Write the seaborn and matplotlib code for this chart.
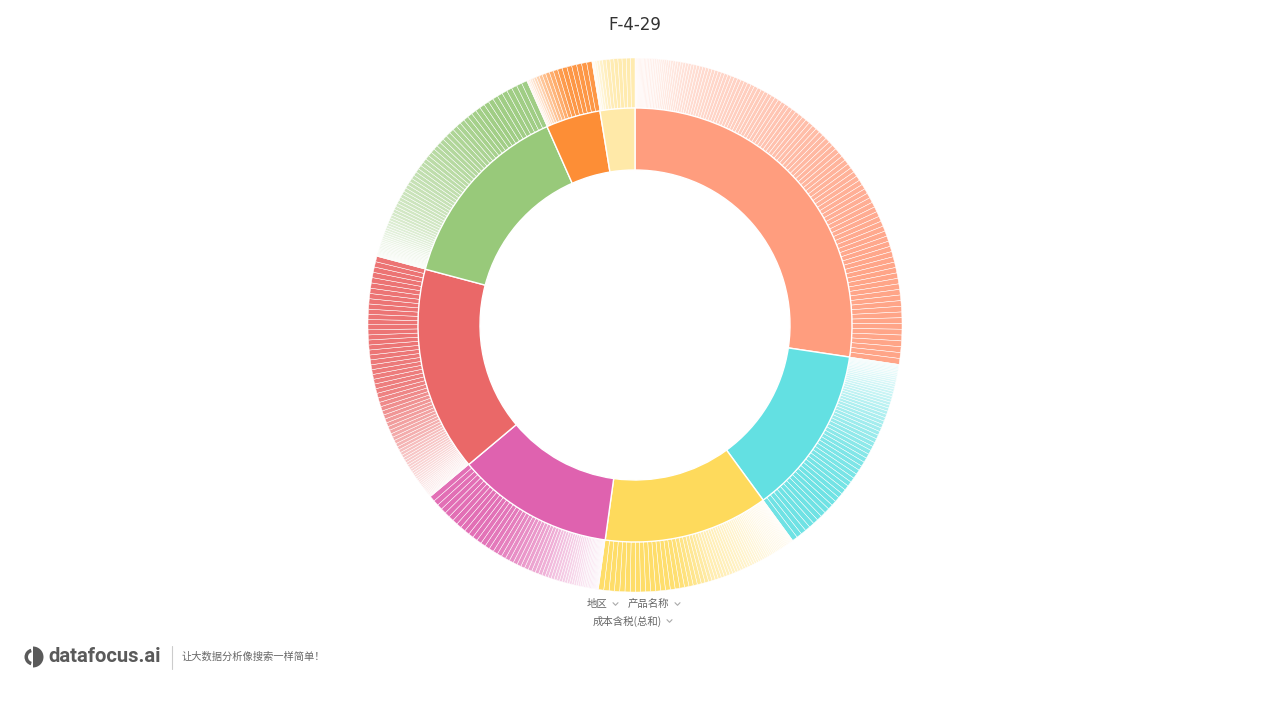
import numpy as np
import matplotlib
matplotlib.use('Agg')
import matplotlib.pyplot as plt
from matplotlib.colors import to_rgb
from matplotlib.patches import Wedge
import seaborn as sns

# inner ring: 地区 -> 成本含税(总和)
regions = ['华东', '华南', '华北', '西南', '华中', '东北', '西北', '港澳台']
region_totals = [985, 453, 441, 421, 549, 512, 146, 93]
region_colors = ['#FF9D7E', '#63E0E2', '#FEDA5C', '#DF62AF',
                 '#EA6868', '#98C97A', '#FD8E36', '#FFE9A8']

# outer ring: 产品名称 per region (largest first)
east_products = [500, 498, 495, 494, 491, 489, 486, 484, 483, 480, 477, 476, 473, 471, 468, 466,
                 465, 462, 459, 457, 455, 452, 450, 449, 446, 443, 441, 440, 437, 435, 432, 430,
                 429, 426, 424, 421, 419, 418, 415, 413, 410, 408, 406,
                 402, 398, 395, 391, 388, 384, 381, 377, 374, 370, 366, 363, 359, 356, 352, 349,
                 345, 341, 338, 334, 331, 327, 324, 320, 316, 313, 309, 306, 302, 299, 295, 291,
                 288, 284, 281, 277, 274, 270, 266, 263,
                 258, 252, 247, 241, 236, 230, 225, 219, 214, 208, 203, 197, 192, 186, 181, 175,
                 170, 164, 158, 153, 147, 142, 136, 131, 125, 119, 114, 108, 102, 96, 90, 84,
                 77, 70, 62, 54]
south_products = [320, 318, 315, 313, 311, 308, 306, 304, 301, 299, 297, 294, 292, 290, 287, 285,
                  283, 281, 279, 277, 275,
                  271, 265, 260, 254, 249, 243, 238, 232, 226, 221, 215, 210, 204, 199,
                  190, 184, 178, 172, 166, 160, 154, 148, 142, 136, 130, 124, 118, 112, 106, 100,
                  93, 87, 80, 73, 65, 56, 46]
north_products = [360, 357, 355, 352, 349, 346, 344, 341, 338, 336, 333, 330, 327, 325, 322, 319,
                  312, 301, 290, 279, 268, 257, 246, 235,
                  221, 216, 213, 208, 205, 200, 197, 192, 189, 184, 181, 176, 173, 168, 165, 160,
                  157, 152, 149, 144, 141, 136, 133, 128, 125, 120, 117, 112, 109, 104, 101, 96,
                  93, 88, 85, 80, 77, 72, 69, 64, 61, 56, 53, 48, 45, 40]
southwest_products = [300, 298, 295, 293, 290, 288, 285, 283, 280, 278, 275, 273, 270, 268, 265, 263,
                      258, 252, 247, 241, 236, 230, 225, 219, 213, 208, 202, 197, 191, 186,
                      172, 167, 162, 157, 152, 147, 142, 137, 132, 127, 122, 117, 112, 107, 102,
                      97, 92, 87, 82, 77, 72, 67, 62, 57, 52, 47, 42, 37, 32]
central_products = [520, 517, 515, 512, 510, 507, 505, 502, 500, 497, 495, 492, 490, 487, 485, 482,
                    480, 477, 475, 472, 470, 467, 465, 462, 460, 457, 455,
                    448, 439, 430, 421, 412, 402, 393, 384, 375, 366, 356, 347, 338, 329, 320,
                    298, 290, 282, 274, 266, 258, 250, 242, 234, 226, 218, 210, 202, 194, 186,
                    178, 170, 162, 154, 146, 138, 130, 122, 114, 106, 98, 88, 76, 62]
northeast_products = [260, 258, 255, 253, 250, 248, 246, 243, 241, 238, 236, 234, 231, 229,
                      225, 222, 219, 217, 214, 211, 208, 206, 203, 200, 197, 195, 192, 189, 186,
                      184, 181, 178, 175, 173, 170, 167, 164, 162, 159, 156, 153, 151, 148, 145,
                      138, 133, 128, 123, 118, 113, 108, 103, 98, 93, 88, 83, 78, 74, 70, 66,
                      62, 58, 54, 50, 46, 42, 38, 34, 30]
northwest_products = [180, 177, 174, 171, 168, 165, 162, 152, 143, 134, 124, 115,
                      100, 88, 76, 64, 52, 40, 28]
hmt_products = [140, 137, 134, 131, 128, 125, 122, 112, 100, 84, 68, 52, 36]

products = [east_products, south_products, north_products, southwest_products,
            central_products, northeast_products, northwest_products, hmt_products]


def setup_plot_style():
    sns.set_theme(style='white')
    plt.rcParams['font.family'] = ['Noto Sans CJK SC', 'DejaVu Sans']


def main():
    setup_plot_style()
    fig = plt.figure(figsize=(12.69, 7.10), dpi=100)
    ax = fig.add_axes([0, 0, 1, 1])
    H = 710
    cx, cy = 635, H - 325

    # outer ring: products, smallest first going clockwise, paler when small
    outer_vals, outer_cols = [], []
    for total, base, prods in zip(region_totals, region_colors, products):
        p = np.array(prods[::-1], dtype=float)
        outer_vals.extend(p / p.sum() * total)
        rgb = np.array(to_rgb(base))
        for v in p:
            a = np.clip(1.05 * (v / p.max()) ** 1.6, 0.16, 0.92)
            outer_cols.append(tuple(1 - a * (1 - rgb)))

    ax.pie(outer_vals, colors=outer_cols, radius=267, center=(cx, cy),
           startangle=90, counterclock=False,
           wedgeprops=dict(width=50, edgecolor='white', linewidth=0.35))
    ax.pie(region_totals, colors=region_colors, radius=217, center=(cx, cy),
           startangle=90, counterclock=False,
           wedgeprops=dict(width=62, edgecolor='white', linewidth=1))

    ax.set_xlim(0, 1269)
    ax.set_ylim(0, H)
    ax.set_aspect('equal')
    ax.axis('off')

    # title
    ax.text(635, H - 25, 'F-4-29', ha='center', va='center', fontsize=12,
            color='#333333', family=['DejaVu Sans'])

    # field labels under the chart
    label_color = '#666666'
    ax.text(587, H - 604, '地区', ha='left', va='center', fontsize=7.5, color=label_color)
    ax.text(628, H - 604, '产品名称', ha='left', va='center', fontsize=7.5, color=label_color)
    ax.text(593, H - 621, '成本含税(总和)', ha='left', va='center', fontsize=7.5, color=label_color)
    for x, y in [(615.5, 604), (677.5, 604), (669.5, 621)]:
        ax.plot([x - 2.5, x, x + 2.5], [H - y + 1.3, H - y - 1.3, H - y + 1.3],
                color='#aaaaaa', lw=0.8, solid_capstyle='round')

    # logo
    logo = '#5a5a5a'
    ax.add_patch(Wedge((33, H - 657), 10.5, -90, 90, color=logo, lw=0))
    ax.add_patch(Wedge((33, H - 657), 8.5, 105, 255, width=3.5, color=logo, lw=0))
    ax.text(48, H - 656, 'datafocus.ai', ha='left', va='center', fontsize=14.6,
            fontweight='bold', color=logo, family=['Roboto', 'DejaVu Sans'])
    ax.plot([172, 172], [H - 646, H - 669], color='#cccccc', lw=0.8)
    ax.text(181, H - 657, '让大数据分析像搜索一样简单！', ha='left', va='center',
            fontsize=7.4, color='#666666')

    fig.savefig('out.png', dpi=100)
    plt.close(fig)


if __name__ == '__main__':
    main()
